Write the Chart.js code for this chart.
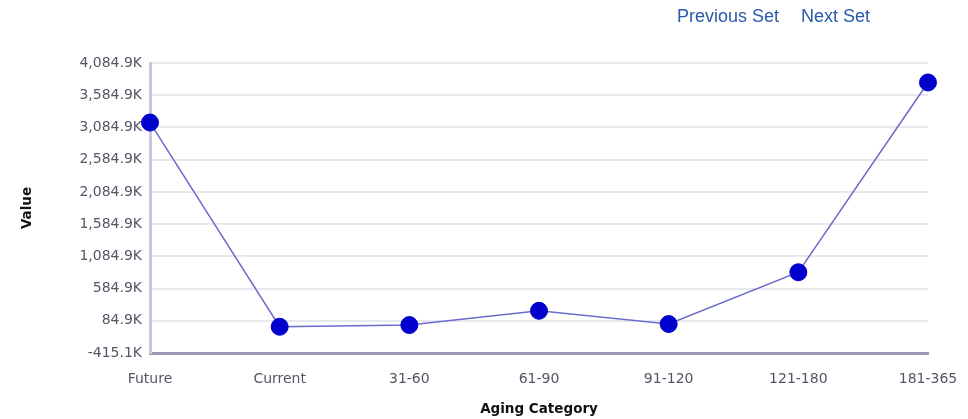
<!DOCTYPE html>
<html>
<head>
<meta charset="utf-8">
<script src="https://cdn.jsdelivr.net/npm/chart.js@4/dist/chart.umd.min.js"></script>
<style>
  html, body { margin: 0; padding: 0; background: #fff; }
  #wrap { position: relative; width: 968px; height: 419px; }
  #links { position: absolute; top: 6px; left: 677px; font-family: "Liberation Sans", Arial, sans-serif; font-size: 18px; }
  #links a { color: #2a5aa8; text-decoration: none; margin-right: 22px; }
  canvas { position: absolute; left: 0; top: 0; }
</style>
</head>
<body>
<div id="wrap">
  <canvas id="line-chart" width="968" height="419"></canvas>
  <div id="links"><a href="#">Previous Set</a><a href="#">Next Set</a></div>
</div>
<script>
// categories and values (in thousands)
const categories = ["Future", "Current", "31-60", "61-90", "91-120", "121-180", "181-365"];
const values = [3161, -8, 18, 240, 34, 838, 3783];

// y axis range
const yMin = -415.1;
const yMax = 4084.9;
const yStep = 500;

const fmt = (v) =>
  v.toLocaleString("en-US", { minimumFractionDigits: 1, maximumFractionDigits: 1 }) + "K";

const ctx = document.getElementById("line-chart");

new Chart(ctx, {
  type: "line",
  data: {
    labels: categories,
    datasets: [
      {
        label: "Value",
        data: values,
        borderColor: "#6b6bcc",
        borderWidth: 1.5,
        pointBackgroundColor: "#0000cc",
        pointBorderColor: "#0000cc",
        pointRadius: 8.5,
        pointBorderWidth: 1,
        tension: 0,
      },
    ],
  },
  options: {
    responsive: false,
    animation: false,
    layout: { padding: { top: 63, right: 40, bottom: 1, left: 0 } },
    plugins: { legend: { display: false }, tooltip: { enabled: false } },
    scales: {
      x: {
        offset: false,
        afterFit: (s) => {
          s.height = 65;
          s.paddingLeft = 0;
          s.paddingRight = 0;
        },
        grid: { display: false, drawTicks: false },
        border: { color: "#9a9ab4", width: 3 },
        ticks: {
          color: "#555566",
          padding: 18,
          maxRotation: 0,
          font: { family: "DejaVu Sans", size: 14 },
        },
        title: {
          display: true,
          text: "Aging Category",
          color: "#111",
          padding: { top: 0, bottom: 0 },
          font: { family: "DejaVu Sans", size: 13.5, weight: "bold" },
        },
      },
      y: {
        min: yMin,
        max: yMax,
        afterFit: (s) => { s.width = 150; },
        grid: {
          drawTicks: false,
          lineWidth: 2,
          color: (c) => (c.index === 0 ? "rgba(0,0,0,0)" : "#e8e8f0"),
        },
        border: { color: "#c8c8dc", width: 3 },
        ticks: {
          stepSize: yStep,
          color: "#555566",
          padding: 8,
          font: { family: "DejaVu Sans", size: 14 },
          callback: (v) => fmt(v),
        },
        title: {
          display: true,
          text: "Value",
          color: "#111",
          padding: { top: 19, bottom: 0 },
          font: { family: "DejaVu Sans", size: 13.5, weight: "bold" },
        },
      },
    },
  },
});
</script>
</body>
</html>
